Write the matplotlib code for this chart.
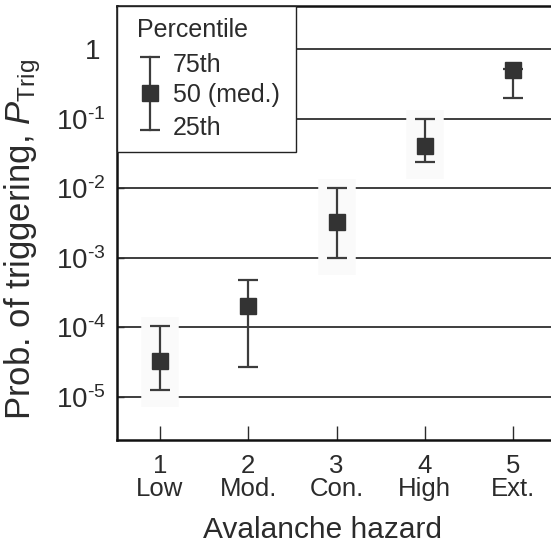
import matplotlib
matplotlib.use('Agg')
import matplotlib.pyplot as plt
from matplotlib.patches import Rectangle
from matplotlib.transforms import ScaledTranslation

# ---- data ----
levels = [1, 2, 3, 4, 5]
level_names = ['Low', 'Mod.', 'Con.', 'High', 'Ext.']
p_median = [3.3e-5, 2.0e-4, 3.3e-3, 0.040, 0.50]
p_q25 = [1.26e-5, 2.7e-5, 1.0e-3, 0.024, 0.20]
p_q75 = [1.05e-4, 4.8e-4, 1.0e-2, 0.10, 0.52]
shaded = [True, False, True, True, False]
ytick_values = [1e-5, 1e-4, 1e-3, 1e-2, 1e-1, 1]
ytick_labels = [r'10$^{\text{-5}}$', r'10$^{\text{-4}}$', r'10$^{\text{-3}}$',
                r'10$^{\text{-2}}$', r'10$^{\text{-1}}$', '1']
legend_title = 'Percentile'
legend_labels = ['75th', '50 (med.)', '25th']

plt.rcParams['font.family'] = ['Liberation Sans', 'DejaVu Sans']
plt.rcParams['mathtext.fontset'] = 'custom'
plt.rcParams['mathtext.rm'] = 'Liberation Sans'
plt.rcParams['mathtext.it'] = 'Liberation Sans:italic'
plt.rcParams['mathtext.bf'] = 'Liberation Sans:bold'

txt = '#2b2b2b'
dark = '#333333'

fig = plt.figure(figsize=(5.51, 5.5), dpi=100)
ax = fig.add_axes([117/551, 110/550, 434/551, 434/550])

ax.set_yscale('log')
ax.set_ylim(10**-5.618, 10**0.618)
ax.set_xlim(0.513, 5.43)

# grid
for v in ytick_values:
    ax.axhline(v, color='#1e1e1e', lw=1.2, zorder=1)

# faint background boxes behind some points
for x, lo, hi, s in zip(levels, p_q25, p_q75, shaded):
    if s:
        ax.vlines(x, lo / 1.75, hi * 1.35, colors='#fafafa', linewidth=27, zorder=1.5)

yerr = [[m - l for m, l in zip(p_median, p_q25)], [h - m for m, h in zip(p_median, p_q75)]]
ax.errorbar(levels, p_median, yerr=yerr, fmt='s', ms=11, mfc=dark, mec=dark,
            ecolor='#3c3c3c', elinewidth=1.6, capsize=7.2, capthick=1.6, zorder=3)

ax.set_yticks(ytick_values)
ax.set_yticklabels(ytick_labels)
ax.yaxis.set_minor_locator(plt.NullLocator())
ax.set_xticks(levels)
ax.set_xticklabels([f'{l}\n{n}' for l, n in zip(levels, level_names)], linespacing=0.95)

ax.tick_params(axis='y', direction='in', length=5, width=1, labelsize=20, pad=8, colors=txt)
ax.tick_params(axis='x', direction='in', length=10, width=1, labelsize=18.5, pad=10, colors=txt)
for t in ax.get_yticklabels():
    if t.get_text() == '1':
        t.set_transform(t.get_transform() + ScaledTranslation(-4/72, 0, fig.dpi_scale_trans))

for side in ['left', 'top', 'bottom']:
    ax.spines[side].set_linewidth(1.8)
    ax.spines[side].set_color('#111111')
ax.spines['right'].set_visible(False)

ax.set_xlabel('Avalanche hazard', fontsize=21.5, color=txt)
ax.xaxis.set_label_coords(0.4735, -0.175)
ax.set_ylabel(r'Prob. of triggering, $P_{\mathrm{Trig}}$', fontsize=25, color=txt)
ax.yaxis.set_label_coords(-0.17, 0.463)

# legend (drawn manually)
ax.add_patch(Rectangle((0, 0.664), 0.412, 0.336, transform=ax.transAxes,
                       facecolor='white', edgecolor='#222222', lw=1.0, zorder=5, clip_on=False))
ax.text(0.046, 0.945, legend_title, transform=ax.transAxes, fontsize=18, color=txt,
        va='center', ha='left', zorder=6)
gx = 0.076
ax.plot([gx, gx], [0.714, 0.882], transform=ax.transAxes, color='#3c3c3c', lw=1.6, zorder=6)
ax.plot([gx, gx], [0.714, 0.882], transform=ax.transAxes, ls='none', marker='_',
        ms=14.4, mew=1.6, color='#3c3c3c', zorder=6)
ax.plot([gx], [0.80], transform=ax.transAxes, ls='none', marker='s', ms=11,
        color=dark, zorder=7)
for yy, lab in zip([0.864, 0.795, 0.719], legend_labels):
    ax.text(0.129, yy, lab, transform=ax.transAxes, fontsize=18, color=txt,
            va='center', ha='left', zorder=6)

fig.savefig('out.png', dpi=100)
